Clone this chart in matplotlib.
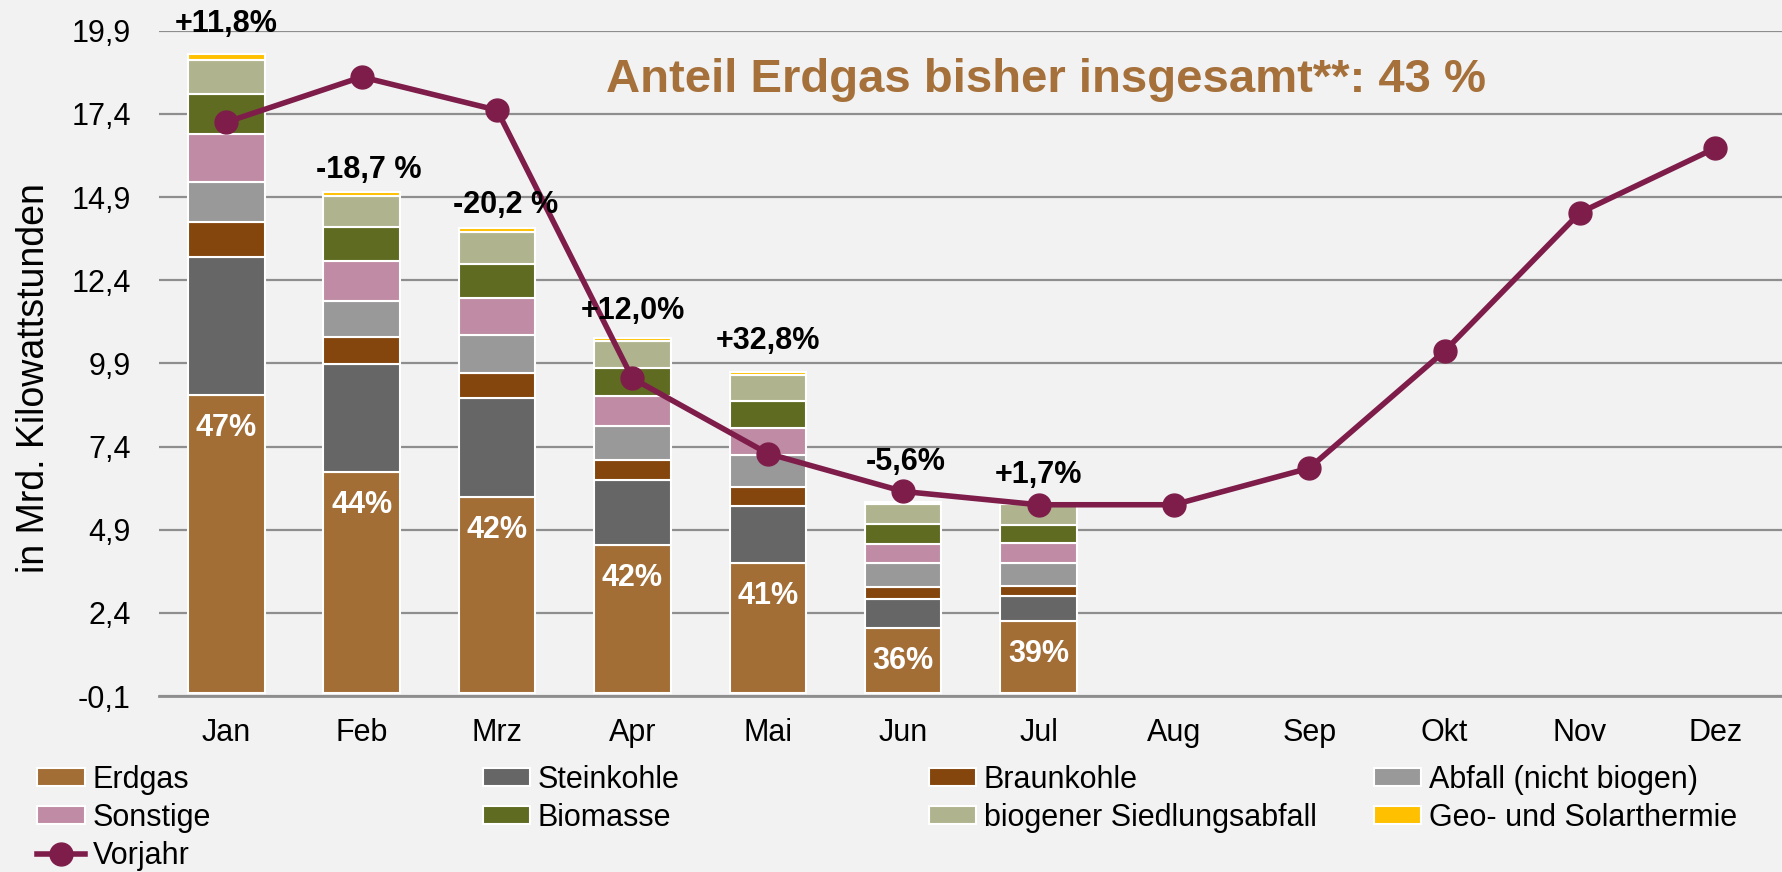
import matplotlib
matplotlib.use("Agg")
import matplotlib.pyplot as plt
import numpy as np

plt.rcParams['font.family'] = ['Liberation Sans', 'DejaVu Sans']

months = ['Jan', 'Feb', 'Mrz', 'Apr', 'Mai', 'Jun', 'Jul', 'Aug', 'Sep', 'Okt', 'Nov', 'Dez']

# Stacked values (Mrd. kWh), Jan - Jul
erdgas = [8.95, 6.63, 5.88, 4.45, 3.90, 1.96, 2.16]
steinkohle = [4.16, 3.25, 2.97, 1.93, 1.71, 0.85, 0.74]
braunkohle = [1.05, 0.82, 0.77, 0.63, 0.57, 0.37, 0.30]
abfall = [1.18, 1.08, 1.13, 1.02, 0.97, 0.72, 0.71]
sonstige = [1.46, 1.19, 1.10, 0.89, 0.81, 0.58, 0.59]
biomasse = [1.20, 1.03, 1.04, 0.85, 0.82, 0.60, 0.55]
siedlung = [1.01, 0.93, 0.97, 0.80, 0.78, 0.60, 0.62]
geo_solar = [0.18, 0.12, 0.10, 0.08, 0.09, 0.04, 0.03]

vorjahr = [17.15, 18.51, 17.51, 9.45, 7.19, 6.05, 5.65, 5.65, 6.75, 10.27, 14.43, 16.37]

change_labels = ['+11,8%', '-18,7 %', '-20,2 %', '+12,0%', '+32,8%', '-5,6%', '+1,7%']
share_labels = ['47%', '44%', '42%', '42%', '41%', '36%', '39%']

# label offsets above the bars (points), as placed in the original
label_dx = [0, 5, 6, 0, 0, 2, 0]
label_dy = [11, 5, 6, 9, 11, 18, 9.5]

series = [
    ('Erdgas', erdgas, '#A36D36'),
    ('Steinkohle', steinkohle, '#666666'),
    ('Braunkohle', braunkohle, '#84460D'),
    ('Abfall (nicht biogen)', abfall, '#999999'),
    ('Sonstige', sonstige, '#C08BA4'),
    ('Biomasse', biomasse, '#606B22'),
    ('biogener Siedlungsabfall', siedlung, '#B0B48E'),
    ('Geo- und Solarthermie', geo_solar, '#FFC000'),
]

bg = '#F2F2F2'
fig = plt.figure(figsize=(17.83, 8.72), dpi=100, facecolor=bg)
ax = fig.add_axes([0.089, 0.2018, 0.911, 0.763])
ax.set_facecolor(bg)

x = np.arange(len(erdgas))
bottom = np.zeros(len(erdgas))
handles = {}
for name, vals, col in series:
    b = ax.bar(x, vals, 0.565, bottom=bottom, color=col, edgecolor='white',
               linewidth=1.5, zorder=2, label=name)
    handles[name] = b
    bottom += np.array(vals)

line, = ax.plot(np.arange(len(months)), vorjahr, color='#7E1D4A', lw=4,
                marker='o', markersize=16.5, zorder=4, label='Vorjahr')
handles['Vorjahr'] = line

# change vs. previous year above bars
for i, lab in enumerate(change_labels):
    ax.annotate(lab, (x[i], bottom[i]), xytext=(label_dx[i], label_dy[i]),
                textcoords='offset points', ha='center', va='bottom',
                fontsize=22, fontweight='bold', color='black', zorder=5,
                annotation_clip=False)

# gas share inside bars
for i, lab in enumerate(share_labels):
    ax.annotate(lab, (x[i], erdgas[i]), xytext=(0, -13), textcoords='offset points',
                ha='center', va='top', fontsize=22, fontweight='bold',
                color='white', zorder=5)

ax.set_xlim(-0.5, 11.5)
ax.set_ylim(-0.1, 19.9)
yt = [-0.1, 2.4, 4.9, 7.4, 9.9, 12.4, 14.9, 17.4, 19.9]
ax.set_yticks(yt)
ax.set_yticklabels([f'{v:.1f}'.replace('.', ',') for v in yt], fontsize=22)
ax.set_xticks(np.arange(len(months)))
ax.set_xticklabels(months, fontsize=22)
ax.tick_params(axis='both', length=0)
ax.tick_params(axis='y', pad=20)
ax.tick_params(axis='x', pad=16)
ax.grid(axis='y', color='#8E8E8E', lw=1.6, zorder=0)
for s in ['top', 'right', 'left']:
    ax.spines[s].set_visible(False)
ax.spines['bottom'].set_color('#8E8E8E')
ax.spines['bottom'].set_linewidth(2)

fig.text(34 / 1783, 0.5665, 'in Mrd. Kilowattstunden', rotation=90,
         ha='center', va='center', fontsize=27)

fig.text(0.5866, 1 - 91.7 / 872, 'Anteil Erdgas bisher insgesamt**: 43 %',
         ha='center', va='baseline', fontsize=34, fontweight='bold', color='#A5703A')

# legend: four columns placed like the original grid
cols = [
    (['Erdgas', 'Sonstige', 'Vorjahr'], 37.5),
    (['Steinkohle', 'Biomasse'], 483),
    (['Braunkohle', 'biogener Siedlungsabfall'], 929),
    (['Abfall (nicht biogen)', 'Geo- und Solarthermie'], 1374),
]
for names, xpx in cols:
    fig.legend([handles[n] for n in names], names, loc='upper left',
               bbox_to_anchor=(xpx / 1783, 1 - 765 / 872), frameon=False,
               fontsize=22, borderpad=0, borderaxespad=0, handlelength=1.55,
               handleheight=0.5, handletextpad=0.25, labelspacing=0.26)

fig.savefig('out.png', dpi=100, facecolor=bg)
